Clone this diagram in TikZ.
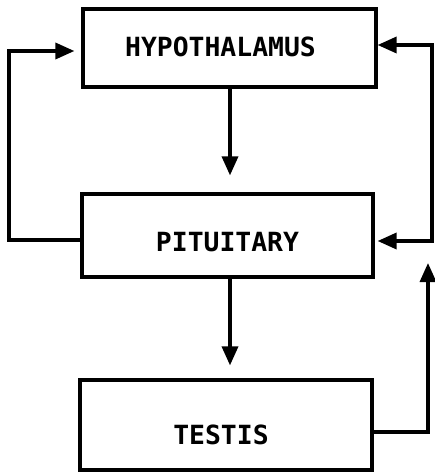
\documentclass[tikz,border=0pt]{standalone}
\usepackage{fontspec}
\newfontfamily\labelfont{DejaVu Sans Mono}
\usetikzlibrary{arrows.meta}
\begin{document}
\begin{tikzpicture}[x=1bp,y=-1bp,
  organ/.style={draw,line width=3.2bp,inner sep=0pt,minimum width=#1},
  lbl/.style={inner sep=0pt,font=\labelfont\bfseries\fontsize{26.5}{26.5}\selectfont},
  conn/.style={line width=3.4bp,line join=miter},
  tip/.style={-{Triangle[length=19bp,width=16bp]}}
]
\useasboundingbox (0,0) rectangle (435,475);
% boxes
\node[organ=293bp,minimum height=78bp] (hyp) at (229.5,48) {};
\node[organ=291bp,minimum height=83bp] (pit) at (227.5,235.5) {};
\node[organ=292bp,minimum height=90bp] (tes) at (226,425) {};
% labels
\node[lbl] (hyptxt) at (220.5,47) {HYPOTHALAMUS};
\node[lbl] (pittxt) at (227.5,242) {PITUITARY};
\node[lbl] (testxt) at (221,435) {TESTIS};
% corner coordinates
\coordinate (l1) at (9,240);
\coordinate (l2) at (9,51);
\coordinate (r1) at (432,45);
\coordinate (r2) at (432,241);
\coordinate (t1) at (428,432);
\coordinate (t2) at (428,263);
% vertical arrows
\draw[conn,tip,shorten >=17bp] (hyp.south -| 230,0) -- (pit.north -| 230,0);
\draw[conn,tip,shorten >=13bp] (pit.south -| 230,0) -- (tes.north -| 230,0);
% left feedback loop
\draw[conn,tip,shorten >=7bp] (pit.west |- l1) -- (l1) -- (l2) -- (hyp.west |- l2);
% right feedback loop
\draw[conn,{Triangle[length=19bp,width=16bp]}-{Triangle[length=19bp,width=16bp]}]
  (hyp.east |- r1) -- (r1) -- (r2) -- ([xshift=3bp]pit.east |- r2);
% testis output
\draw[conn,tip] (tes.east |- t1) -- (t1) -- (t2);
\end{tikzpicture}
\end{document}
